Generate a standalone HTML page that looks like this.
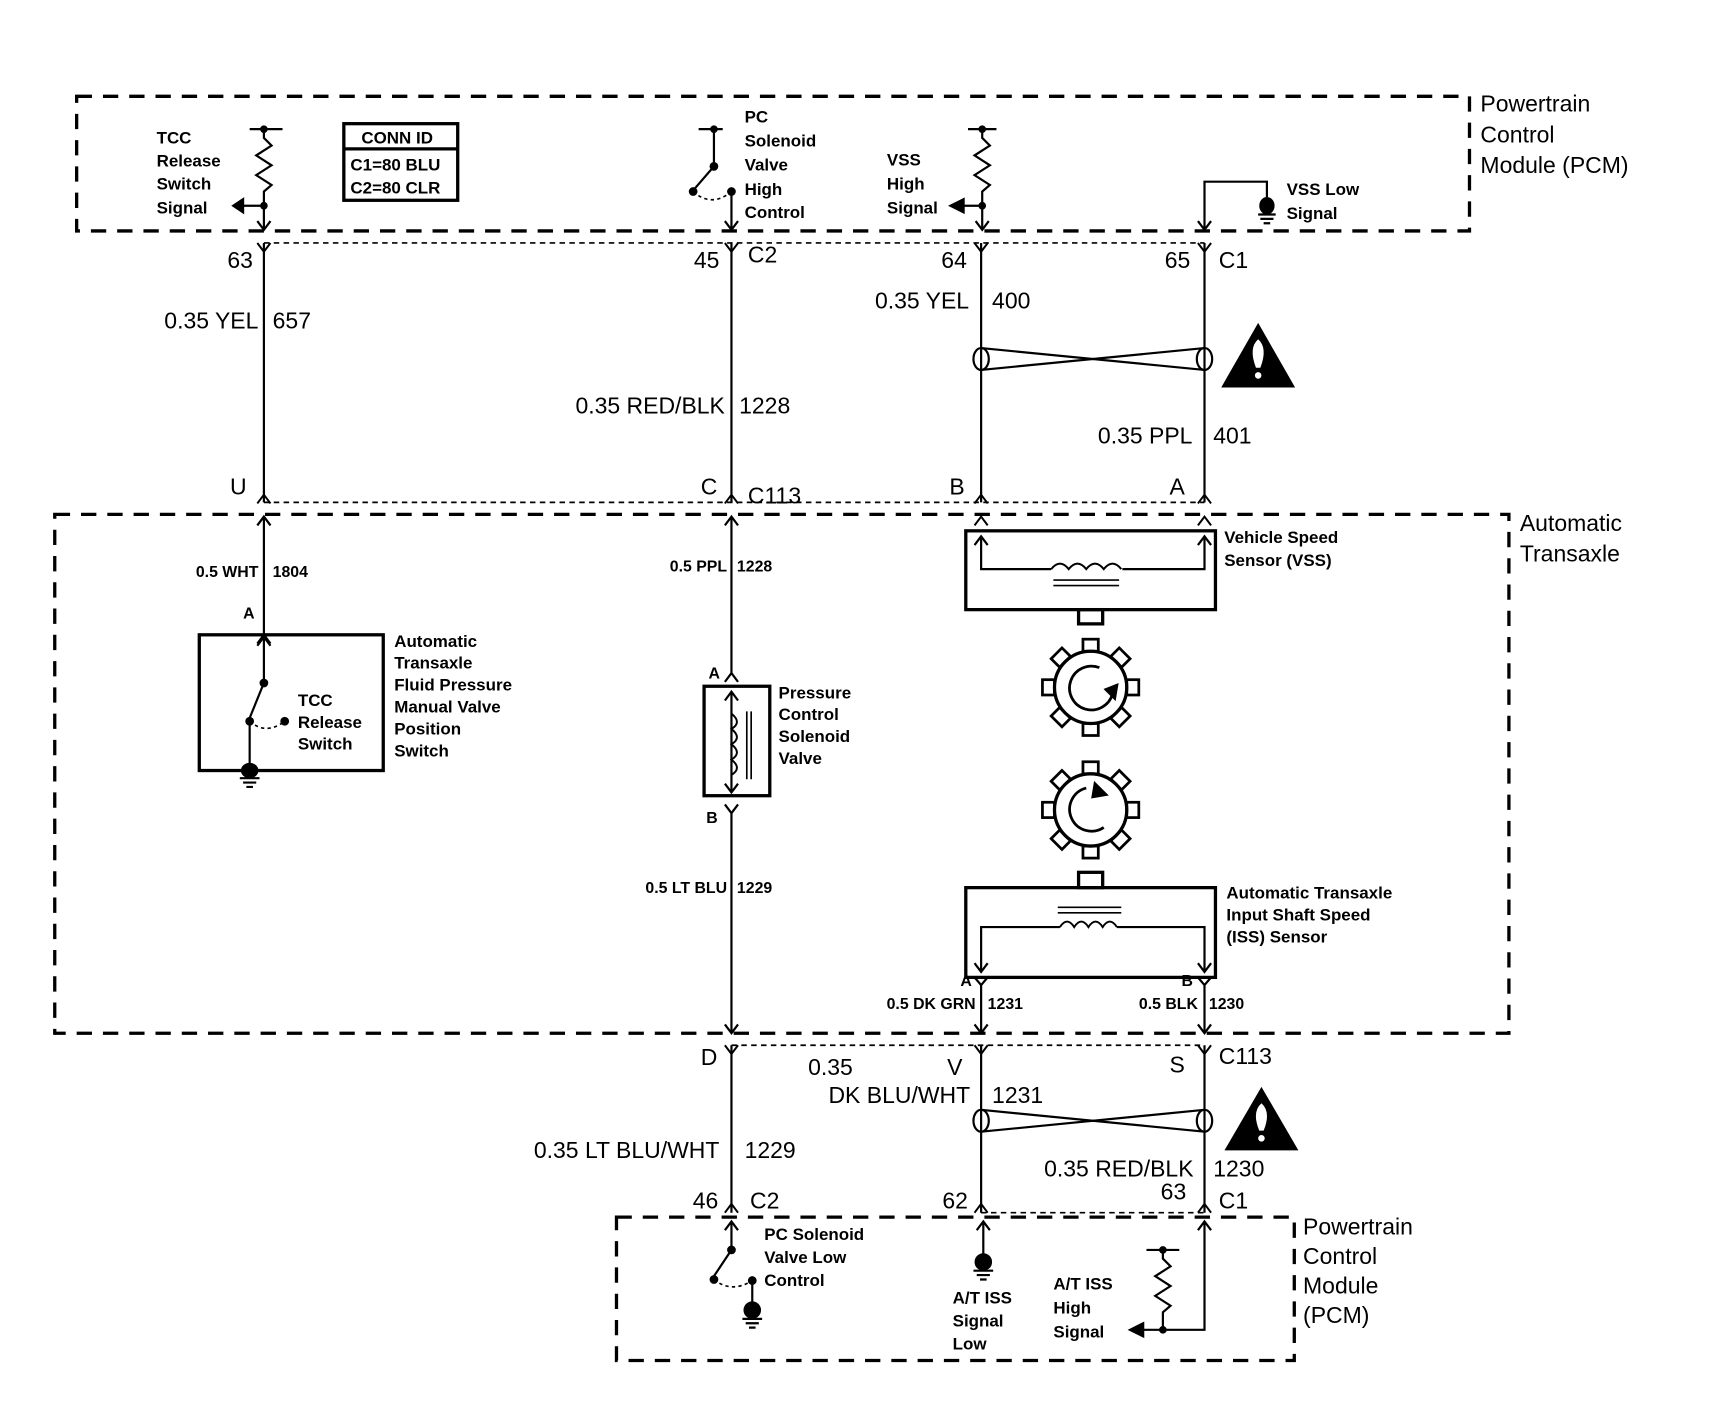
<!DOCTYPE html>
<html><head><meta charset="utf-8"><style>
html,body{margin:0;padding:0;background:#fff;}
svg{display:block;}
text{font-family:"Liberation Sans",sans-serif;fill:#000;}
.b{font-size:21px;}
.s{font-size:15.5px;font-weight:bold;}
.m{font-size:14.5px;font-weight:bold;}
.r{text-anchor:end;}
</style></head><body>
<svg width="1716" height="1408" viewBox="0 0 1716 1408" xmlns="http://www.w3.org/2000/svg">
<g transform="scale(1.095 1.0945)" stroke="#000" fill="none" stroke-width="2">
<g stroke-width="3" stroke-dasharray="14 10">
<rect x="70" y="88" width="1272" height="123"/>
<rect x="50" y="470" width="1328" height="474"/>
<rect x="563" y="1112" width="619" height="131"/>
</g>
<g stroke-width="1.5" stroke-dasharray="5 4">
<line x1="241" y1="222" x2="1100" y2="222"/>
<line x1="241" y1="459" x2="1100" y2="459"/>
<line x1="668" y1="955" x2="1100" y2="955"/>
<line x1="896" y1="1108" x2="1100" y2="1108"/>
</g>
<line x1="241" y1="222" x2="241" y2="459"/>
<line x1="668" y1="222" x2="668" y2="459"/>
<line x1="896" y1="222" x2="896" y2="459"/>
<line x1="1100" y1="222" x2="1100" y2="459"/>
<line x1="668" y1="955" x2="668" y2="1108"/>
<line x1="896" y1="955" x2="896" y2="1108"/>
<line x1="1100" y1="955" x2="1100" y2="1108"/>
<g stroke-width="1.8">
<path d="M235 222 L241 230 L247 222 M662 222 L668 230 L674 222 M890 222 L896 230 L902 222 M1094 222 L1100 230 L1106 222"/>
<path d="M235 460 L241 452 L247 460 M662 460 L668 452 L674 460 M890 460 L896 452 L902 460 M1094 460 L1100 452 L1106 460"/>
<path d="M662 955 L668 963 L674 955 M890 955 L896 963 L902 955 M1094 955 L1100 963 L1106 955"/>
<path d="M662 1108 L668 1100 L674 1108 M890 1108 L896 1100 L902 1108 M1094 1108 L1100 1100 L1106 1108"/>
<path d="M235 480 L241 472 L247 480 M890 480 L896 472 L902 480 M1094 480 L1100 472 L1106 480"/>
</g>
<path d="M228 118 H258 M241 118 V126 L248 133 L234 142 L248 151 L234 160 L248 169 L241 175 V210"/>
<path d="M235 202 L241 210 L247 202"/>
<path d="M241 188 H217"/><path d="M222 182 L213 188 L222 194 Z" fill="#000"/>
<circle cx="241" cy="188" r="2.5" fill="#000"/><circle cx="241" cy="118" r="2.5" fill="#000"/>
<rect x="314" y="113" width="104" height="70" stroke-width="3"/>
<line x1="314" y1="136" x2="418" y2="136" stroke-width="3"/>
<path d="M638 118 H660 M652 118 V152 L633 174"/>
<circle cx="652" cy="118" r="2.5" fill="#000"/><circle cx="652" cy="152" r="3" fill="#000"/><circle cx="633" cy="175" r="3" fill="#000"/><circle cx="668" cy="175" r="3" fill="#000"/>
<path d="M633 175 Q650 190 668 175" stroke-dasharray="3 3" stroke-width="1.5"/>
<path d="M668 175 V210 M662 202 L668 210 L674 202"/>
<path d="M884 118 H910 M897 118 V126 L904 133 L890 142 L904 151 L890 160 L904 169 L897 175 V210"/>
<path d="M891 202 L897 210 L903 202"/>
<circle cx="897" cy="118" r="2.5" fill="#000"/><circle cx="897" cy="188" r="2.5" fill="#000"/>
<path d="M897 188 H876"/><path d="M880 182 L868 188 L880 194 Z" fill="#000"/>
<path d="M1100 210 V166 H1157 V180 M1094 202 L1100 210 L1106 202"/>
<ellipse cx="1157" cy="188" rx="6" ry="7" fill="#000"/>
<path d="M1149 196 H1165 M1151 200 H1163 M1154 204 H1160"/>
<ellipse cx="896" cy="328" rx="7" ry="10"/><ellipse cx="1100" cy="328" rx="7" ry="10"/>
<path d="M896 318 L1100 338 M896 338 L1100 318"/>
<path d="M1149 297 L1181 353 L1117 353 Z" fill="#000"/>
<path d="M1149 310 Q1158 318 1151 336 L1147 336 Q1140 318 1149 310 Z" fill="#fff" stroke="none"/><circle cx="1149" cy="343" r="3" fill="#fff" stroke="none"/>
<path d="M1152 995 L1184 1050 L1120 1050 Z" fill="#000"/>
<path d="M1152 1008 Q1161 1016 1154 1033 L1150 1033 Q1143 1016 1152 1008 Z" fill="#fff" stroke="none"/><circle cx="1152" cy="1040" r="3" fill="#fff" stroke="none"/>
<ellipse cx="896" cy="1024" rx="7" ry="10"/><ellipse cx="1100" cy="1024" rx="7" ry="10"/>
<path d="M896 1014 L1100 1034 M896 1034 L1100 1014"/>
<path d="M241 472 V580 M235 480 L241 472 L247 480"/>
<path d="M235 588 L241 580 L247 588"/>
<rect x="182" y="580" width="168" height="124" stroke-width="3"/>
<path d="M241 582 V624 L228 656 M235 590 L241 582 L247 590"/>
<circle cx="241" cy="624" r="3" fill="#000"/><circle cx="228" cy="659" r="3" fill="#000"/><circle cx="260" cy="659" r="3" fill="#000"/>
<path d="M228 659 Q243 672 260 659" stroke-dasharray="3 3" stroke-width="1.5"/>
<path d="M228 659 V700"/>
<ellipse cx="228" cy="704" rx="7" ry="6" fill="#000"/>
<path d="M219 711 H237 M222 715 H234 M225 719 H231"/>
<path d="M668 472 V615 M662 480 L668 472 L674 480 M662 623 L668 615 L674 623"/>
<rect x="643" y="627" width="60" height="100" stroke-width="3"/>
<path d="M668 724 V632 M662 640 L668 632 L674 640 M662 716 L668 724 L674 716"/>
<path d="M668 652 q10 8 0 14 q10 8 0 14 q10 8 0 14 q10 8 0 14" stroke-width="1.8"/>
<path d="M682 650 V712 M686 650 V712" stroke-width="1.5"/>
<path d="M662 735 L668 743 L674 735 M668 743 V944 M662 936 L668 944 L674 936"/>
<rect x="882" y="485" width="228" height="72" stroke-width="3"/>
<path d="M896 490 V520 H960 M1025 520 H1100 V490 M890 498 L896 490 L902 498 M1094 498 L1100 490 L1106 498"/>
<path d="M960 520 q8 -10 16 0 q8 -10 16 0 q8 -10 16 0 q8 -10 16 0" stroke-width="1.8"/>
<path d="M962 530 H1022 M962 535 H1022" stroke-width="1.5"/>
<rect x="985" y="557" width="22" height="13" stroke-width="3"/>
<g stroke-width="3">
<circle cx="996" cy="628" r="33"/>
<circle cx="996" cy="740" r="33"/>
</g>
<g stroke-width="2.5">
<g transform="translate(996 628)">
<rect x="-7" y="-44" width="14" height="11"/><rect x="-7" y="33" width="14" height="11"/><rect x="-44" y="-7" width="11" height="14"/><rect x="33" y="-7" width="11" height="14"/>
<rect x="-7" y="-44" width="14" height="11" transform="rotate(45)"/><rect x="-7" y="-44" width="14" height="11" transform="rotate(-45)"/><rect x="-7" y="33" width="14" height="11" transform="rotate(45)"/><rect x="-7" y="33" width="14" height="11" transform="rotate(-45)"/>
<path d="M8 -18 A20 20 0 1 0 20 6"/><path d="M14 2 L22 10 L24 -2 Z" fill="#000"/>
</g>
<g transform="translate(996 740)">
<rect x="-7" y="-44" width="14" height="11"/><rect x="-7" y="33" width="14" height="11"/><rect x="-44" y="-7" width="11" height="14"/><rect x="33" y="-7" width="11" height="14"/>
<rect x="-7" y="-44" width="14" height="11" transform="rotate(45)"/><rect x="-7" y="-44" width="14" height="11" transform="rotate(-45)"/><rect x="-7" y="33" width="14" height="11" transform="rotate(45)"/><rect x="-7" y="33" width="14" height="11" transform="rotate(-45)"/>
<path d="M-4 -20 A20 20 0 1 0 12 16"/><path d="M4 -24 L14 -14 L2 -12 Z" fill="#000"/>
</g>
</g>
<rect x="985" y="797" width="22" height="14" stroke-width="3"/>
<rect x="882" y="811" width="228" height="82" stroke-width="3"/>
<path d="M896 888 V847 H968 M1020 847 H1100 V888 M890 880 L896 888 L902 880 M1094 880 L1100 888 L1106 880"/>
<path d="M968 847 q6.5 -10 13 0 q6.5 -10 13 0 q6.5 -10 13 0 q6.5 -10 13 0" stroke-width="1.8"/>
<path d="M966 829 H1024 M966 834 H1024" stroke-width="1.5"/>
<path d="M890 893 L896 900 L902 893 M896 900 V944 M890 936 L896 944 L902 936"/>
<path d="M1094 893 L1100 900 L1106 893 M1100 900 V944 M1094 936 L1100 944 L1106 936"/>
<path d="M668 1116 V1142 L652 1166 M662 1124 L668 1116 L674 1124"/>
<circle cx="668" cy="1142" r="3" fill="#000"/><circle cx="652" cy="1169" r="3" fill="#000"/><circle cx="687" cy="1170" r="3" fill="#000"/>
<path d="M652 1169 Q668 1182 687 1170" stroke-dasharray="3 3" stroke-width="1.5"/>
<path d="M687 1170 V1192"/><ellipse cx="687" cy="1197" rx="7" ry="7" fill="#000"/>
<path d="M678 1205 H696 M681 1209 H693 M684 1213 H690"/>
<path d="M898 1116 V1148 M892 1124 L898 1116 L904 1124"/>
<ellipse cx="898" cy="1153" rx="7" ry="7" fill="#000"/>
<path d="M889 1161 H907 M892 1165 H904 M895 1169 H901"/>
<path d="M1047 1142 H1077 M1062 1142 V1150 L1069 1157 L1055 1166 L1069 1175 L1055 1184 L1069 1193 L1062 1199 V1215 H1100 V1116 M1094 1124 L1100 1116 L1106 1124"/>
<circle cx="1062" cy="1142" r="2.5" fill="#000"/><circle cx="1062" cy="1215" r="2.5" fill="#000"/>
<path d="M1062 1215 H1040"/><path d="M1044 1209 L1032 1215 L1044 1221 Z" fill="#000"/>
</g>
<g transform="scale(1.095 1.0945)">
<g class="s">
<text x="143" y="131">TCC</text><text x="143" y="152">Release</text><text x="143" y="173">Switch</text><text x="143" y="195">Signal</text>
<text x="330" y="131">CONN ID</text><text x="320" y="156">C1=80 BLU</text><text x="320" y="177">C2=80 CLR</text>
<text x="680" y="112">PC</text><text x="680" y="134">Solenoid</text><text x="680" y="156">Valve</text><text x="680" y="178">High</text><text x="680" y="199">Control</text>
<text x="810" y="151">VSS</text><text x="810" y="173">High</text><text x="810" y="195">Signal</text>
<text x="1175" y="178">VSS Low</text><text x="1175" y="200">Signal</text>
<text x="1118" y="496">Vehicle Speed</text><text x="1118" y="517">Sensor (VSS)</text>
<text x="360" y="591">Automatic</text><text x="360" y="611">Transaxle</text><text x="360" y="631">Fluid Pressure</text><text x="360" y="651">Manual Valve</text><text x="360" y="671">Position</text><text x="360" y="691">Switch</text>
<text x="272" y="645">TCC</text><text x="272" y="665">Release</text><text x="272" y="685">Switch</text>
<text x="711" y="638">Pressure</text><text x="711" y="658">Control</text><text x="711" y="678">Solenoid</text><text x="711" y="698">Valve</text>
<text x="1120" y="821">Automatic Transaxle</text><text x="1120" y="841">Input Shaft Speed</text><text x="1120" y="861">(ISS) Sensor</text>
<text x="698" y="1133">PC Solenoid</text><text x="698" y="1154">Valve Low</text><text x="698" y="1175">Control</text>
<text x="870" y="1191">A/T ISS</text><text x="870" y="1212">Signal</text><text x="870" y="1233">Low</text>
<text x="962" y="1178">A/T ISS</text><text x="962" y="1200">High</text><text x="962" y="1222">Signal</text>
</g>
<g class="m">
<text x="236" y="527" class="r">0.5 WHT</text><text x="249" y="527">1804</text>
<text x="222" y="565">A</text>
<text x="664" y="522" class="r">0.5 PPL</text><text x="673" y="522">1228</text>
<text x="647" y="620">A</text><text x="645" y="752">B</text>
<text x="664" y="816" class="r">0.5 LT BLU</text><text x="673" y="816">1229</text>
<text x="877" y="901">A</text><text x="1079" y="901">B</text>
<text x="891" y="922" class="r">0.5 DK GRN</text><text x="902" y="922">1231</text>
<text x="1094" y="922" class="r">0.5 BLK</text><text x="1104" y="922">1230</text>
</g>
<g class="b">
<text x="1352" y="102">Powertrain</text><text x="1352" y="130">Control</text><text x="1352" y="158">Module (PCM)</text>
<text x="1388" y="485">Automatic</text><text x="1388" y="513">Transaxle</text>
<text x="1190" y="1128">Powertrain</text><text x="1190" y="1155">Control</text><text x="1190" y="1182">Module</text><text x="1190" y="1209">(PCM)</text>
<text x="231" y="245" class="r">63</text><text x="657" y="245" class="r">45</text><text x="683" y="240">C2</text>
<text x="883" y="245" class="r">64</text><text x="1087" y="245" class="r">65</text><text x="1113" y="245">C1</text>
<text x="236" y="300" class="r">0.35 YEL</text><text x="249" y="300">657</text>
<text x="662" y="378" class="r">0.35 RED/BLK</text><text x="675" y="378">1228</text>
<text x="885" y="282" class="r">0.35 YEL</text><text x="906" y="282">400</text>
<text x="1089" y="405" class="r">0.35 PPL</text><text x="1108" y="405">401</text>
<text x="210" y="452">U</text><text x="640" y="452">C</text><text x="683" y="460">C113</text>
<text x="867" y="452">B</text><text x="1068" y="452">A</text>
<text x="640" y="973">D</text><text x="865" y="982">V</text><text x="1068" y="980">S</text><text x="1113" y="972">C113</text>
<text x="738" y="982">0.35</text><text x="886" y="1008" class="r">DK BLU/WHT</text><text x="906" y="1008">1231</text>
<text x="1090" y="1075" class="r">0.35 RED/BLK</text><text x="1108" y="1075">1230</text>
<text x="1060" y="1096">63</text>
<text x="657" y="1058" class="r">0.35 LT BLU/WHT</text><text x="680" y="1058">1229</text>
<text x="656" y="1104" class="r">46</text><text x="685" y="1104">C2</text>
<text x="884" y="1104" class="r">62</text><text x="1113" y="1104">C1</text>
</g>
</g>
</svg>
</body></html>
